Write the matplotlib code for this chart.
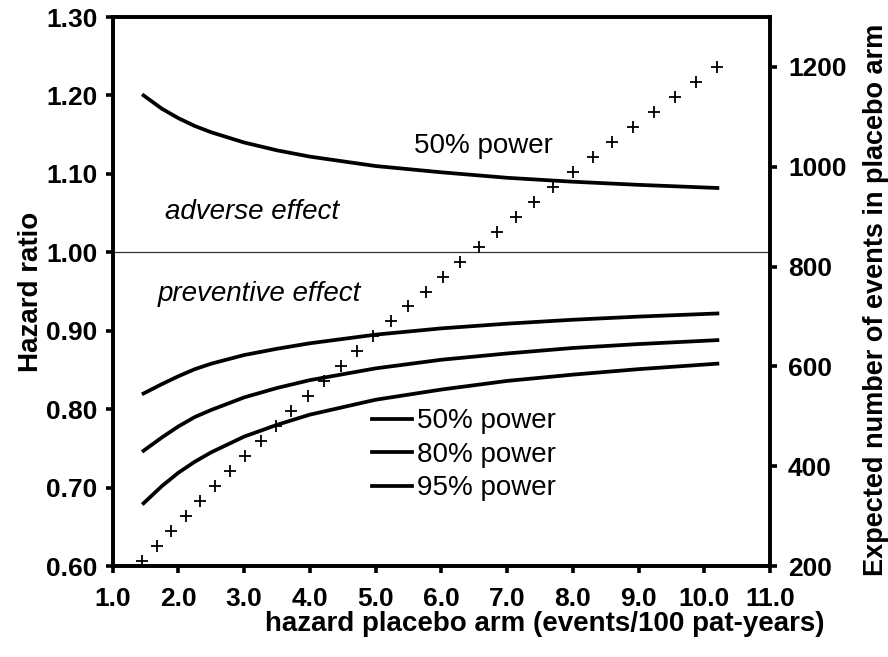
import matplotlib
matplotlib.use("Agg")
import matplotlib.pyplot as plt

plt.rcParams['font.family'] = ['Liberation Sans', 'DejaVu Sans']

# hazard in placebo arm (events/100 pat-years) where the power curves are drawn
hazard = [1.47, 1.75, 2.0, 2.25, 2.5, 3.0, 3.5, 4.0, 5.0, 6.0, 7.0, 8.0, 9.0, 10.2]

# detectable hazard ratio for each power level
hr_adverse_50 = [1.200, 1.183, 1.171, 1.161, 1.153, 1.140, 1.130, 1.122, 1.110,
                 1.102, 1.095, 1.090, 1.086, 1.082]
hr_prev_50 = [0.820, 0.832, 0.842, 0.851, 0.858, 0.869, 0.877, 0.884, 0.895,
              0.903, 0.909, 0.914, 0.918, 0.922]
hr_prev_80 = [0.747, 0.764, 0.778, 0.790, 0.799, 0.815, 0.827, 0.837, 0.852,
              0.863, 0.871, 0.878, 0.883, 0.888]
hr_prev_95 = [0.680, 0.702, 0.719, 0.733, 0.745, 0.765, 0.780, 0.793, 0.812,
              0.825, 0.836, 0.844, 0.851, 0.858]

# expected events in placebo arm (right axis)
ev_hazard = [1.45, 1.67, 1.89, 2.11, 2.33, 2.56, 2.79, 3.02, 3.25, 3.49, 3.72,
             3.97, 4.21, 4.47, 4.71, 4.96, 5.23, 5.49, 5.76, 6.02, 6.29, 6.57,
             6.84, 7.13, 7.41, 7.70, 8.00, 8.30, 8.60, 8.91, 9.23, 9.55, 9.88, 10.20]
ev_count = [210, 240, 270, 300, 330, 360, 390, 420, 450, 480, 510, 540, 570,
            600, 630, 660, 690, 720, 750, 780, 810, 840, 870, 900, 930, 960,
            990, 1020, 1050, 1080, 1110, 1140, 1170, 1200]

x_ticks = [1, 2, 3, 4, 5, 6, 7, 8, 9, 10, 11]
y_ticks = [0.6, 0.7, 0.8, 0.9, 1.0, 1.1, 1.2, 1.3]
ev_ticks = [200, 400, 600, 800, 1000, 1200]

fig = plt.figure(figsize=(8.88, 6.57), dpi=100)
ax = fig.add_axes([0.1269, 0.1385, 0.7402, 0.8356])
ax2 = ax.twinx()

lw = 2.7
ax.plot(hazard, hr_adverse_50, color='black', lw=lw)
ax.plot(hazard, hr_prev_50, color='black', lw=lw, label='50% power')
ax.plot(hazard, hr_prev_80, color='black', lw=lw, label='80% power')
ax.plot(hazard, hr_prev_95, color='black', lw=lw, label='95% power')
ax.axhline(1.0, color='#333333', lw=0.9)

ax2.plot(ev_hazard, ev_count, linestyle='none', marker='+', color='black',
         markersize=9, markeredgewidth=1.3, clip_on=False)

ax.set_xlim(1, 11)
ax.set_ylim(0.6, 1.3)
ax2.set_ylim(200, 1300)

ax.set_xticks(x_ticks)
ax.set_xticklabels(['%.1f' % v for v in x_ticks])
ax.set_yticks(y_ticks)
ax.set_yticklabels(['%.2f' % v for v in y_ticks])
ax2.set_yticks(ev_ticks)

for a in (ax, ax2):
    for s in a.spines.values():
        s.set_linewidth(2.6)
    a.tick_params(direction='out', length=5, width=2.6, labelsize=19)
    for lab in a.get_xticklabels() + a.get_yticklabels():
        lab.set_fontweight('bold')
ax.tick_params(axis='x', pad=10)
ax.tick_params(axis='y', pad=6)
ax2.tick_params(axis='y', pad=8)

ax.text(1.795, 1.052, 'adverse effect', fontsize=20, style='italic', va='center')
ax.text(1.69, 0.947, 'preventive effect', fontsize=20, style='italic', va='center')
ax.text(5.59, 1.136, '50% power', fontsize=20, va='center')

ax.legend(loc='upper left', bbox_to_anchor=(0.394, 0.287), frameon=False,
          fontsize=20, handlelength=1.45, handletextpad=0.2, labelspacing=0.27,
          borderpad=0, borderaxespad=0)

ax.set_xlabel('hazard placebo arm (events/100 pat-years)', fontsize=20,
              fontweight='bold')
ax.xaxis.set_label_coords(0.657, -0.082)
ax.set_ylabel('Hazard ratio', fontsize=20, fontweight='bold')
ax.yaxis.set_label_coords(-0.105, 0.5)
ax2.set_ylabel('Expected number of events in placebo arm', fontsize=19.5,
               fontweight='bold')
ax2.yaxis.set_label_coords(1.142, 0.485)

fig.savefig('out.png', dpi=100)
